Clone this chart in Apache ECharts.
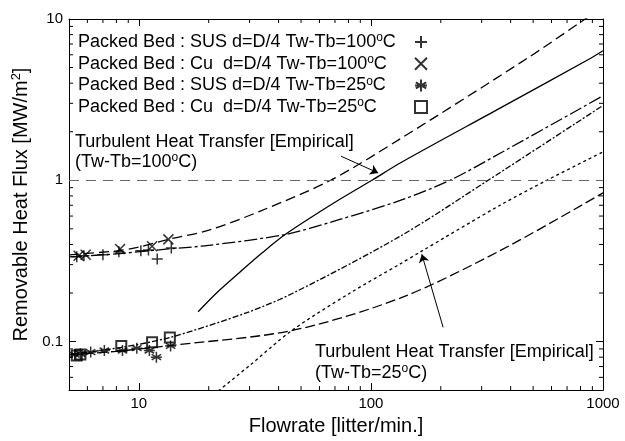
<!DOCTYPE html>
<html>
<head>
<meta charset="utf-8">
<script src="https://cdn.jsdelivr.net/npm/echarts@6.0.0/dist/echarts.min.js"></script>
<style>
html, body { margin: 0; padding: 0; background: #fff; }
#chart { width: 625px; height: 441px; }
</style>
</head>
<body>
<div id="chart"></div>
<script>
// packed bed data, Tw-Tb = 100 C
const sus100X = [5.4, 5.8, 7.0, 8.2, 10.2, 11.0, 12.0, 13.8];
const sus100Y = [0.335, 0.34, 0.345, 0.36, 0.365, 0.37, 0.325, 0.38];
const cu100X = [5.5, 5.9, 8.3, 11.4, 13.4];
const cu100Y = [0.34, 0.345, 0.375, 0.39, 0.43];
// packed bed data, Tw-Tb = 25 C
const sus25X = [5.3, 5.6, 6.2, 7.1, 8.5, 9.8, 11.1, 11.9, 13.7];
const sus25Y = [0.083, 0.084, 0.086, 0.088, 0.088, 0.091, 0.088, 0.08, 0.094];
const cu25X = [5.4, 5.6, 8.4, 11.4, 13.6];
const cu25Y = [0.082, 0.083, 0.094, 0.099, 0.106];

// fitted curves through the packed bed data
const fitCu100X = [5, 8, 10, 13.4, 20, 33, 67, 134, 471, 838, 1000];
const fitCu100Y = [0.345, 0.365, 0.385, 0.43, 0.49, 0.64, 1.0, 1.81, 5.7, 10, 11.9];
const fitSus100X = [5, 8, 13.4, 20, 42.7, 70, 133.7, 219, 360, 1000];
const fitSus100Y = [0.335, 0.35, 0.375, 0.395, 0.461, 0.56, 0.75, 1.0, 1.47, 3.34];
const fitCu25X = [5, 8.4, 13.6, 29.2, 46.3, 133.7, 320, 1000];
const fitCu25Y = [0.083, 0.092, 0.106, 0.151, 0.2, 0.45, 1.0, 2.91];
const fitSus25X = [5, 8, 14.1, 45.6, 133.7, 360, 1000];
const fitSus25Y = [0.083, 0.087, 0.095, 0.117, 0.186, 0.366, 0.835];

// turbulent heat transfer (empirical)
const turb100X = [18, 22, 27.3, 34, 42.7, 68.9, 101, 133.7, 360, 881, 1000];
const turb100Y = [0.153, 0.205, 0.27, 0.355, 0.461, 0.72, 1.0, 1.28, 2.8, 5.69, 6.35];
const turb25X = [22, 30, 45.6, 81.3, 133.7, 163, 360, 573, 1000];
const turb25Y = [0.0494, 0.071, 0.117, 0.2, 0.303, 0.359, 0.7, 1.0, 1.5];

// axis ticks
const xMinor = [6, 7, 8, 9, 20, 30, 40, 50, 60, 70, 80, 90, 200, 300, 400, 500, 600, 700, 800, 900];
const yMinor = [0.06, 0.07, 0.08, 0.09, 0.2, 0.3, 0.4, 0.5, 0.6, 0.7, 0.8, 0.9, 2, 3, 4, 5, 6, 7, 8, 9];

const legendNames = [
  'Packed Bed : SUS d=D/4 Tw-Tb=100',
  'Packed Bed : Cu  d=D/4 Tw-Tb=100',
  'Packed Bed : SUS d=D/4 Tw-Tb=25',
  'Packed Bed : Cu  d=D/4 Tw-Tb=25'
];

const FONT = '"Liberation Sans", Arial, sans-serif';
const zip = (xs, ys) => xs.map((x, i) => [x, ys[i]]);
const isDecade = v => Math.abs(Math.log10(v) - Math.round(Math.log10(v))) < 1e-6;

// pad legend texts to one width so icons line up and texts start together
const ctx = document.createElement('canvas').getContext('2d');
const tw = (s, size) => { ctx.font = size + 'px ' + FONT; return ctx.measureText(s).width; };
const LEGEND_W = 332;
const legendRich = { s: { fontFamily: FONT, fontSize: 12, verticalAlign: 'top', lineHeight: 20 } };
legendNames.forEach((n, i) => {
  legendRich['p' + i] = { fontFamily: FONT, fontSize: 18, lineHeight: 20,
    width: LEGEND_W - tw(n, 18) - tw('o', 12) - tw('C', 18) };
});

const plus = 'path://M5,0L5,10M0,5L10,5';
const cross = 'path://M0,0L10,10M10,0L0,10';
const star = 'path://M5,0L5,10M0.7,2.5L9.3,7.5M9.3,2.5L0.7,7.5M0,5L10,5';

const mark = { color: 'none', borderColor: '#000', borderWidth: 1.5 };
const lineOf = (name, xs, ys, type) => ({
  name: name, type: 'line', data: zip(xs, ys), symbol: 'none', smooth: 0.3,
  lineStyle: { color: '#000', width: 1.3, type: type }
});

const myChart = echarts.init(document.getElementById('chart'));

const tickSeries = (axis, values) => ({
  type: 'custom', silent: true,
  data: values.map(v => axis === 'x' ? [v, 1] : [10, v]),
  renderItem: function (params, api) {
    const cs = params.coordSys;
    const st = { stroke: '#000', lineWidth: 1 };
    if (axis === 'x') {
      const px = api.coord([api.value(0), 1])[0];
      return { type: 'group', children: [
        { type: 'line', shape: { x1: px, y1: cs.y + cs.height, x2: px, y2: cs.y + cs.height - 4 }, style: st },
        { type: 'line', shape: { x1: px, y1: cs.y, x2: px, y2: cs.y + 4 }, style: st }
      ] };
    }
    const py = api.coord([10, api.value(1)])[1];
    return { type: 'group', children: [
      { type: 'line', shape: { x1: cs.x, y1: py, x2: cs.x + 4, y2: py }, style: st },
      { type: 'line', shape: { x1: cs.x + cs.width, y1: py, x2: cs.x + cs.width - 4, y2: py }, style: st }
    ] };
  }
});

const axisBase = {
  type: 'log', logBase: 10,
  axisLine: { lineStyle: { color: '#000', width: 1 } },
  axisTick: { inside: true, length: 7, lineStyle: { color: '#000' } },
  splitLine: { show: false },
  axisLabel: { color: '#000', fontFamily: FONT, fontSize: 15, margin: 6,
    formatter: v => isDecade(v) ? String(+v.toPrecision(3)) : '' }
};

const supText = { s: { fontSize: 12, fontFamily: FONT, verticalAlign: 'top', lineHeight: 20 } };

const option = {
  animation: false,
  backgroundColor: '#fff',
  grid: { left: 69, right: 22, top: 19, bottom: 41 },
  legend: {
    data: legendNames, orient: 'vertical', align: 'right',
    left: 78, top: 32, padding: 0, itemGap: 1.7,
    itemWidth: 12, itemHeight: 12,
    formatter: name => name + '{s|o}C{p' + legendNames.indexOf(name) + '| }',
    textStyle: { color: '#000', fontFamily: FONT, fontSize: 18, lineHeight: 20, rich: legendRich }
  },
  xAxis: [
    Object.assign({}, axisBase, { min: 5, max: 1000,
      name: 'Flowrate [litter/min.]', nameLocation: 'middle', nameGap: 14,
      nameTextStyle: { color: '#000', fontFamily: FONT, fontSize: 20 } }),
    Object.assign({}, axisBase, { min: 5, max: 1000, position: 'top', axisLabel: { show: false } })
  ],
  yAxis: [
    Object.assign({}, axisBase, { min: 0.05, max: 10,
      name: 'Removable Heat Flux [MW/m{s|2}]', nameLocation: 'middle', nameGap: 36,
      nameTextStyle: { color: '#000', fontFamily: FONT, fontSize: 20,
        rich: { s: { fontFamily: FONT, fontSize: 13, verticalAlign: 'top', lineHeight: 22 } } } }),
    Object.assign({}, axisBase, { min: 0.05, max: 10, position: 'right', axisLabel: { show: false } })
  ],
  graphic: [
    { type: 'text', left: 75, top: 133, style: { text: 'Turbulent Heat Transfer [Empirical]',
      font: '18px ' + FONT, fill: '#000' } },
    { type: 'text', left: 75, top: 152, style: { text: '(Tw-Tb=100{s|o}C)', fill: '#000',
      font: '18px ' + FONT, rich: supText } },
    { type: 'text', left: 315, top: 343, style: { text: 'Turbulent Heat Transfer [Empirical]',
      font: '18px ' + FONT, fill: '#000' } },
    { type: 'text', left: 315, top: 363, style: { text: '(Tw-Tb=25{s|o}C)', fill: '#000',
      font: '18px ' + FONT, rich: supText } }
  ],
  series: [
    tickSeries('x', xMinor),
    tickSeries('y', yMinor),
    lineOf('fit Cu 100', fitCu100X, fitCu100Y, [10, 5]),
    Object.assign(lineOf('fit SUS 100', fitSus100X, fitSus100Y, [13, 3, 3, 3]), {
      markLine: {
        silent: true, symbol: ['none', 'none'], label: { show: false },
        lineStyle: { color: '#666', width: 1, type: [10, 7] },
        data: [{ yAxis: 1 }]
      }
    }),
    lineOf('fit Cu 25', fitCu25X, fitCu25Y, [6, 2, 2, 2]),
    lineOf('fit SUS 25', fitSus25X, fitSus25Y, [10, 4]),
    lineOf('turbulent 25', turb25X, turb25Y, [3, 3]),
    Object.assign(lineOf('turbulent 100', turb100X, turb100Y, 'solid'), {
      markLine: {
        silent: true, symbol: ['none', 'arrow'], symbolSize: 8,
        label: { show: false },
        lineStyle: { color: '#000', width: 1, type: 'solid' },
        data: [
          [{ coord: [74.3, 1.41] }, { coord: [107.5, 1.11] }],
          [{ coord: [204.7, 0.1225] }, { coord: [165.6, 0.348] }]
        ]
      }
    }),
    { name: legendNames[0], type: 'scatter', data: zip(sus100X, sus100Y), symbol: plus, symbolSize: 11, itemStyle: mark },
    { name: legendNames[1], type: 'scatter', data: zip(cu100X, cu100Y), symbol: cross, symbolSize: 10, itemStyle: mark },
    { name: legendNames[2], type: 'scatter', data: zip(sus25X, sus25Y), symbol: star, symbolSize: 11, itemStyle: mark },
    { name: legendNames[3], type: 'scatter', data: zip(cu25X, cu25Y), symbol: 'rect', symbolSize: 10,
      itemStyle: { color: 'none', borderColor: '#000', borderWidth: 2 } }
  ]
};

myChart.setOption(option);
</script>
</body>
</html>
